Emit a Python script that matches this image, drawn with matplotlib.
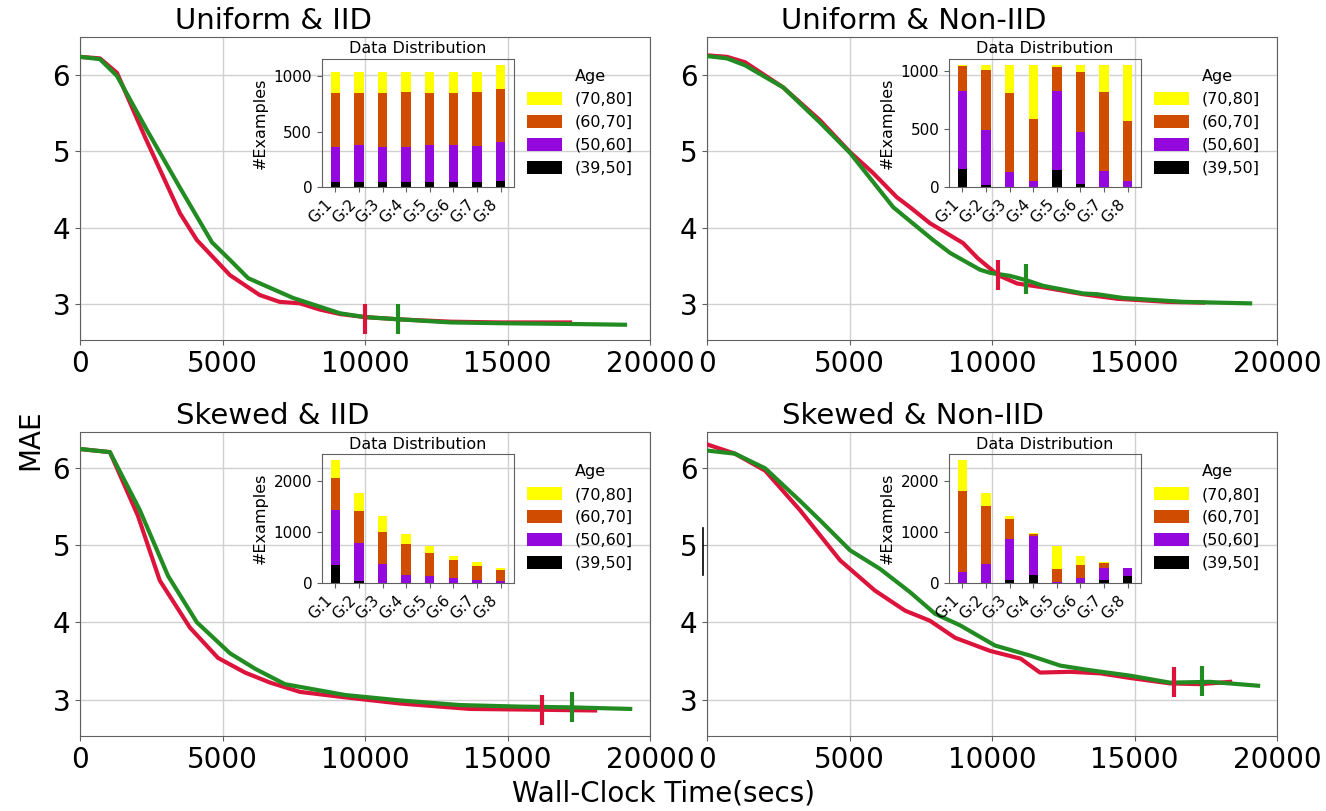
import numpy as np
import matplotlib.pyplot as plt
from matplotlib.patches import Patch
from matplotlib.lines import Line2D

# #################### Data #################### #
titles = ['Uniform & IID', 'Uniform & Non-IID', 'Skewed & IID', 'Skewed & Non-IID']
groups = ['G:1', 'G:2', 'G:3', 'G:4', 'G:5', 'G:6', 'G:7', 'G:8']
age_bins = ['(39,50]', '(50,60]', '(60,70]', '(70,80]']

# MAE vs wall-clock time, red run and green run, per panel
ui_red_t = [0, 700, 1300, 2280, 3510, 4100, 5260, 6300, 7000, 7720, 8400, 9120, 10000, 11230, 13000, 14740, 17190]
ui_red = [6.24, 6.22, 6.03, 5.19, 4.19, 3.84, 3.38, 3.12, 3.03, 3.01, 2.93, 2.87, 2.83, 2.80, 2.77, 2.76, 2.76]
ui_green_t = [0, 700, 1300, 2350, 3500, 4630, 5260, 5900, 7480, 9120, 10000, 11230, 13000, 14740, 17190, 19120]
ui_green = [6.24, 6.21, 5.99, 5.28, 4.53, 3.81, 3.58, 3.34, 3.08, 2.88, 2.83, 2.80, 2.76, 2.75, 2.74, 2.73]

un_red_t = [0, 700, 1330, 2670, 3960, 5020, 5820, 6660, 7120, 7820, 8980, 9500, 10210, 10880, 11790, 13190, 14390, 16140, 17400]
un_red = [6.26, 6.24, 6.17, 5.84, 5.41, 4.99, 4.72, 4.40, 4.27, 4.06, 3.80, 3.60, 3.38, 3.27, 3.22, 3.13, 3.07, 3.03, 3.02]
un_green_t = [0, 700, 1330, 2670, 3960, 5020, 6530, 7930, 8530, 9580, 9930, 10630, 11230, 11790, 13190, 13680, 14600, 16700, 19050]
un_green = [6.25, 6.22, 6.13, 5.84, 5.38, 4.98, 4.27, 3.84, 3.67, 3.45, 3.41, 3.37, 3.31, 3.24, 3.14, 3.13, 3.08, 3.03, 3.01]

si_red_t = [0, 1050, 2030, 2800, 3860, 4840, 5790, 6670, 7720, 9300, 11230, 13680, 16000, 18070]
si_red = [6.24, 6.20, 5.38, 4.54, 3.93, 3.54, 3.35, 3.22, 3.10, 3.03, 2.95, 2.88, 2.87, 2.86]
si_green_t = [0, 1050, 2100, 3090, 4100, 5260, 6140, 7190, 9300, 11230, 13330, 15430, 17260, 19300]
si_green = [6.24, 6.20, 5.45, 4.60, 4.00, 3.60, 3.40, 3.20, 3.06, 2.99, 2.93, 2.91, 2.90, 2.88]

sn_red_t = [0, 980, 2040, 3260, 4670, 5890, 6950, 7820, 8700, 9930, 11000, 11680, 12740, 13790, 14840, 16240, 17300, 18350]
sn_red = [6.30, 6.18, 5.96, 5.45, 4.80, 4.41, 4.15, 4.02, 3.80, 3.63, 3.53, 3.35, 3.36, 3.34, 3.28, 3.21, 3.20, 3.23]
sn_green_t = [0, 980, 2040, 3260, 3960, 5020, 6070, 7120, 8000, 8880, 10100, 11330, 12390, 13440, 14840, 16240, 17650, 19330]
sn_green = [6.22, 6.18, 5.99, 5.57, 5.32, 4.93, 4.69, 4.39, 4.11, 3.96, 3.70, 3.57, 3.44, 3.38, 3.31, 3.22, 3.23, 3.18]

# (time, MAE) of the short vertical marks, red then green
ui_marks = [(10000, 2.81), (11160, 2.81)]
un_marks = [(10210, 3.38), (11190, 3.33)]
si_marks = [(16210, 2.86), (17260, 2.90)]
sn_marks = [(16390, 3.23), (17370, 3.24)]

# Examples per group and age bin (stacked bottom -> top)
ui_b39 = [42, 42, 42, 42, 42, 42, 42, 51]
ui_b50 = [323, 338, 323, 323, 338, 338, 329, 359]
ui_b60 = [485, 470, 485, 491, 470, 470, 485, 479]
ui_b70 = [186, 186, 186, 180, 186, 186, 180, 213]

un_b39 = [155, 20, 0, 0, 144, 29, 0, 0]
un_b50 = [678, 474, 129, 49, 689, 445, 138, 49]
un_b60 = [210, 512, 681, 534, 204, 515, 678, 520]
un_b70 = [9, 46, 242, 469, 12, 63, 236, 480]

si_b39 = [358, 33, 0, 0, 0, 0, 0, 0]
si_b50 = [1075, 755, 371, 150, 130, 98, 52, 46]
si_b60 = [632, 632, 626, 612, 469, 345, 274, 202]
si_b70 = [345, 352, 319, 209, 124, 91, 78, 52]

sn_b39 = [0, 0, 52, 163, 0, 0, 52, 130]
sn_b50 = [208, 378, 814, 756, 26, 104, 235, 160]
sn_b60 = [1603, 1140, 391, 51, 254, 254, 111, 10]
sn_b70 = [599, 254, 59, 5, 443, 176, 6, 0]

x_ticks = [0, 5000, 10000, 15000, 20000]
y_ticks = [3, 4, 5, 6]

RED = '#dc143c'
GREEN = '#228b22'
BIN_COLORS = plt.cm.gnuplot(np.linspace(0, 1, 4))
SPINE = '#606060'


# #################### Function declarations #################### #
def style_axes(ax, fontsize):
    for s in ax.spines.values():
        s.set_color(SPINE)
    ax.tick_params(colors=SPINE, labelcolor='black', labelsize=fontsize)


def draw_curves(ax, title, title_x, ylim, red_t, red, green_t, green, marks):
    ax.plot(red_t, red, color=RED, lw=3, zorder=3)
    ax.plot(green_t, green, color=GREEN, lw=3, zorder=4)
    ax.plot(*marks[0], marker='|', ms=21, mew=3, color=RED, zorder=5)
    ax.plot(*marks[1], marker='|', ms=21, mew=3, color=GREEN, zorder=5)
    ax.set_xlim(0, 20000)
    ax.set_ylim(*ylim)
    ax.set_xticks(x_ticks)
    ax.set_yticks(y_ticks)
    ax.grid(True, color='#d0d0d0', lw=1)
    ax.set_title(title, fontsize=21, x=title_x)
    style_axes(ax, 20)


def draw_inset(rect, bins, yticks, legend_xy):
    ax = fig.add_axes(rect)
    ax.patch.set_alpha(0)
    x = np.arange(len(groups))
    bottom = np.zeros(len(groups))
    for vals, c in zip(bins, BIN_COLORS):
        ax.bar(x, vals, 0.4, bottom=bottom, color=c)
        bottom += np.array(vals)
    ax.set_xticks(x)
    ax.set_xticklabels(groups, rotation=45, ha='right')
    ax.set_yticks(yticks)
    ax.set_ylabel('#Examples', fontsize=11.5)
    ax.set_title('Data Distribution', fontsize=11.5, pad=4)
    style_axes(ax, 11)

    handles = [Patch(facecolor=c, label=l) for c, l in zip(BIN_COLORS, age_bins)][::-1]
    fig.legend(handles=handles, loc='upper left', bbox_to_anchor=legend_xy,
               bbox_transform=fig.transFigure, frameon=False, fontsize=11.5,
               handlelength=2.2, handleheight=0.8, labelspacing=0.5,
               borderaxespad=0, borderpad=0, handletextpad=0.8)
    fig.text(legend_xy[0] + 48 / 1326, legend_xy[1] + 8 / 811, 'Age', fontsize=11.5, va='bottom')
    return ax


# #################### Figure #################### #
fig = plt.figure(figsize=(13.26, 8.11), dpi=100)

ax_ui = fig.add_axes([0.0603, 1 - 340 / 811, 0.430, 303 / 811])
ax_un = fig.add_axes([0.5332, 1 - 340 / 811, 0.430, 303 / 811])
ax_si = fig.add_axes([0.0603, 1 - 736 / 811, 0.430, 304 / 811])
ax_sn = fig.add_axes([0.5332, 1 - 736 / 811, 0.430, 304 / 811])

draw_curves(ax_ui, titles[0], 0.339, (2.53, 6.5), ui_red_t, ui_red, ui_green_t, ui_green, ui_marks)
draw_curves(ax_un, titles[1], 0.362, (2.53, 6.5), un_red_t, un_red, un_green_t, un_green, un_marks)
draw_curves(ax_si, titles[2], 0.339, (2.53, 6.46), si_red_t, si_red, si_green_t, si_green, si_marks)
draw_curves(ax_sn, titles[3], 0.362, (2.53, 6.46), sn_red_t, sn_red, sn_green_t, sn_green, sn_marks)

draw_inset([0.2428, 0.7694, 0.1448, 0.1578], [ui_b39, ui_b50, ui_b60, ui_b70], [0, 500, 1000], (527 / 1326, 1 - 92 / 811))
draw_inset([0.7157, 0.7694, 0.1448, 0.1578], [un_b39, un_b50, un_b60, un_b70], [0, 500, 1000], (1154 / 1326, 1 - 92 / 811))
draw_inset([0.2428, 0.2811, 0.1448, 0.1590], [si_b39, si_b50, si_b60, si_b70], [0, 1000, 2000], (527 / 1326, 1 - 487 / 811))
draw_inset([0.7157, 0.2811, 0.1448, 0.1590], [sn_b39, sn_b50, sn_b60, sn_b70], [0, 1000, 2000], (1154 / 1326, 1 - 487 / 811))

fig.text(0.0226, 1 - 440 / 811, 'MAE', rotation=90, fontsize=20, va='center', ha='center')
fig.text(0.5, 0.004, 'Wall-Clock Time(secs)', fontsize=20, ha='center', va='bottom')

# small stray mark next to the "5" of the last panel
fig.add_artist(Line2D([703 / 1326, 703 / 1326], [1 - 528 / 811, 1 - 575 / 811], color='black', lw=1.2))

fig.savefig('out.png', dpi=100)
